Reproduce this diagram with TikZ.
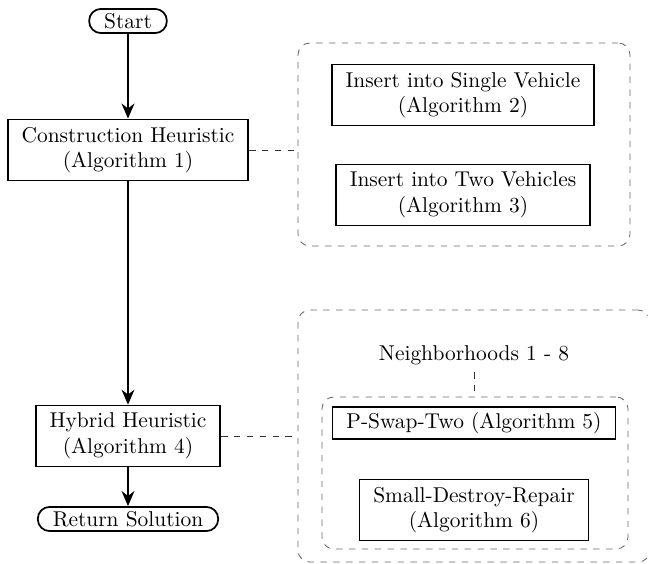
\documentclass[tikz,border=0pt]{standalone}
\usepackage{tikz}
\usetikzlibrary{positioning,arrows.meta,shapes.geometric,calc,fit,backgrounds}
\usepackage{xcolor}
\definecolor{groupgray}{RGB}{105,105,105}
\definecolor{linkgray}{RGB}{50,50,50}

\tikzset{
  algobox/.style={rectangle,draw,thick,align=center,inner xsep=6.5pt,inner ysep=3.5pt},
  terminal/.style={rectangle,rounded corners=5.5pt,draw,thick,inner xsep=7pt,inner ysep=2pt,minimum height=11pt},
  groupbox/.style={rectangle,rounded corners=5.5pt,draw=groupgray,dashed,thin,inner sep=0pt},
  flow/.style={-{Stealth[length=7pt,width=6pt]},thick},
  link/.style={dashed,thin,draw=linkgray},
}

\begin{document}
\begin{tikzpicture}[x=0.0164cm,y=-0.0164cm]
\useasboundingbox (0,0) rectangle (648,564);

% main flow
\node[terminal] (start) at (128,21) {Start};
\node[algobox] (cons) at (128,150) {Construction Heuristic\\(Algorithm 1)};
\node[algobox] (hybrid) at (128,436) {Hybrid Heuristic\\(Algorithm 4)};
\node[terminal] (ret) at (128,519) {Return Solution};

% construction sub-algorithms
\node[algobox] (single) at (463,95) {Insert into Single Vehicle\\(Algorithm 2)};
\node[algobox] (two) at (463,195) {Insert into Two Vehicles\\(Algorithm 3)};
\node[groupbox,fit={(298,43) (630,246)}] (consgrp) {};

% hybrid sub-algorithms
\node (neigh) at (474,355) {Neighborhoods 1 - 8};
\node[algobox,inner ysep=2.5pt] (pswap) at (474,423) {P-Swap-Two (Algorithm 5)};
\node[algobox] (sdr) at (474,510) {Small-Destroy-Repair\\(Algorithm 6)};
\node[groupbox,fit={(322,397) (628,549)}] (neighgrp) {};
\node[groupbox,fit={(298,310) (650,562)}] (hybgrp) {};

\draw[flow] (start) -- (cons);
\draw[flow] (cons) -- (hybrid);
\draw[flow] (hybrid) -- (ret);

\draw[link] (cons.east) -- (cons.east -| consgrp.west);
\draw[link] (hybrid.east) -- (hybrid.east -| hybgrp.west);
\draw[link] (neigh.south) -- (neigh.south |- neighgrp.north);
\end{tikzpicture}
\end{document}
